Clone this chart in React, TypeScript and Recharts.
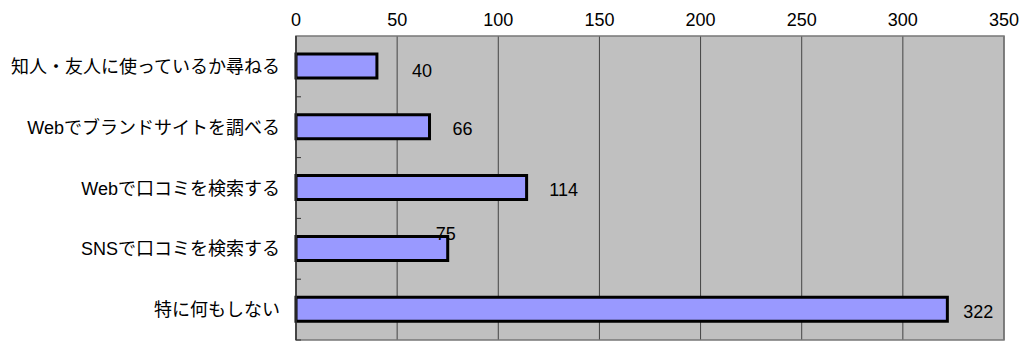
import { BarChart, Bar, XAxis, YAxis, CartesianGrid, ReferenceArea, LabelList } from "recharts";

const categories = [
  "知人・友人に使っているか尋ねる",
  "Webでブランドサイトを調べる",
  "Webで口コミを検索する",
  "SNSで口コミを検索する",
  "特に何もしない",
];
const counts = [40, 66, 114, 75, 322];
const xTicks = [0, 50, 100, 150, 200, 250, 300, 350];

const data = categories.map((name, i) => ({ name, count: counts[i] }));

const FONT = "'Liberation Sans', 'Noto Sans CJK JP', sans-serif";
const TICK_GAP = 16;

// Excel put the value labels a bit unevenly; nudge each one like the original
const labelShift = [
  { dx: 45, dy: 4 },
  { dx: 33, dy: 2 },
  { dx: 37, dy: 2 },
  { dx: -2, dy: -15 },
  { dx: 31, dy: 2 },
];

function CategoryTick(props: any) {
  const { x, y, payload } = props;
  const half = payload.offset || 0;
  return (
    <g>
      <text x={x} y={y} dy={6.5} textAnchor="end" fontSize={18} fill="#000" fontFamily={FONT}>
        {payload.value}
      </text>
      <line x1={x + TICK_GAP} x2={x + TICK_GAP + 5} y1={y + half} y2={y + half} stroke="#333" />
    </g>
  );
}

function ValueLabel(props: any) {
  const { x, y, width, height, value, index } = props;
  const s = labelShift[index] || { dx: 30, dy: 0 };
  return (
    <text
      x={x + width + s.dx}
      y={y + height / 2 + s.dy}
      dy={6.5}
      textAnchor="middle"
      fontSize={18}
      fill="#000"
      fontFamily={FONT}
    >
      {value}
    </text>
  );
}

export default function App() {
  return (
    <div style={{ position: "absolute", left: 0, top: 0, background: "#fff" }}>
      <BarChart
        width={1024}
        height={353}
        data={data}
        layout="vertical"
        margin={{ top: 0, right: 20, bottom: 13, left: 0 }}
        barSize={24}
      >
        <CartesianGrid horizontal={false} vertical={true} stroke="#444" fill="#c0c0c0" fillOpacity={1} />
        <XAxis
          type="number"
          orientation="top"
          domain={[0, 350]}
          ticks={xTicks}
          height={36}
          tickLine={false}
          axisLine={false}
          tickSize={0}
          tickMargin={10}
          tick={{ fontSize: 18, fill: "#000", fontFamily: FONT }}
        />
        <YAxis
          type="category"
          dataKey="name"
          width={296}
          tickLine={false}
          tickSize={0}
          tickMargin={TICK_GAP}
          axisLine={{ stroke: "#333", strokeWidth: 1.5 }}
          tick={<CategoryTick />}
          interval={0}
        />
        <ReferenceArea x1={0} x2={350} fill="none" stroke="#777" strokeWidth={1.5} ifOverflow="visible" />
        <Bar dataKey="count" fill="#9999ff" stroke="#000" strokeWidth={3} isAnimationActive={false}>
          <LabelList dataKey="count" content={<ValueLabel />} />
        </Bar>
      </BarChart>
    </div>
  );
}
